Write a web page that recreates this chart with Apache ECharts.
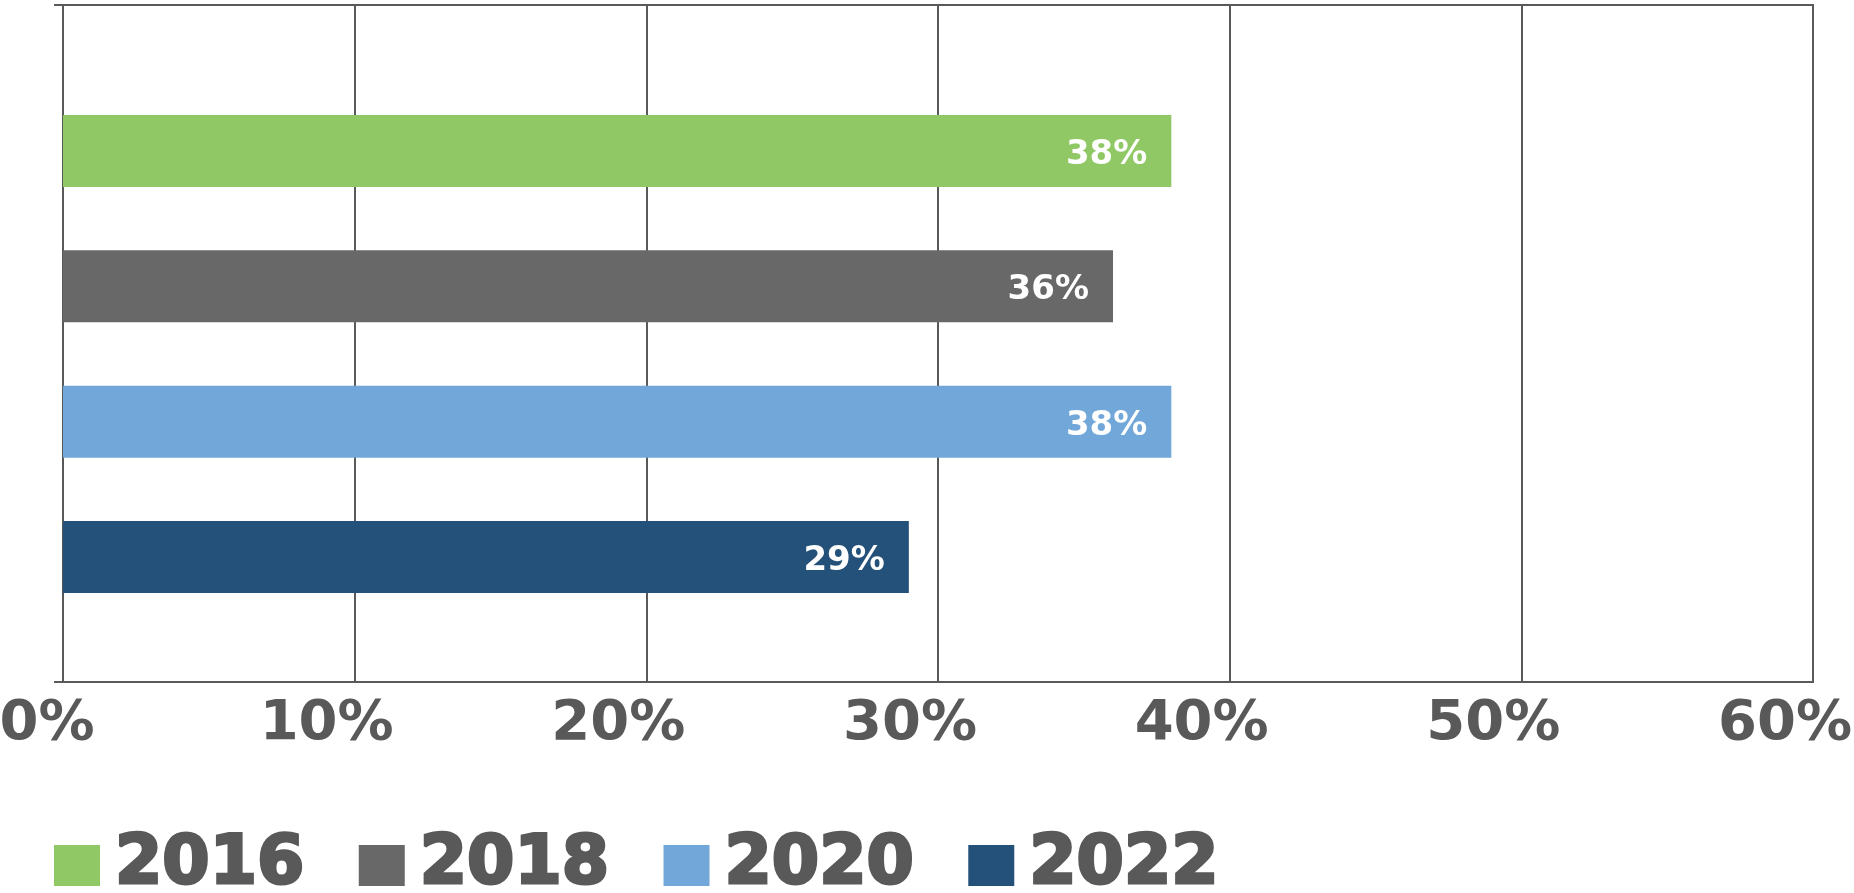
<!DOCTYPE html>
<html><head><meta charset="utf-8">
<script src="https://cdn.jsdelivr.net/npm/echarts@6/dist/echarts.min.js"></script>
<style>html,body{margin:0;padding:0;background:#fff}#c{width:1854px;height:893px}</style>
</head><body><div id="c"></div>
<script>
const years = ['2016', '2018', '2020', '2022'];
const values = [38, 36, 38, 29];
const colors = ['#90C865', '#686868', '#71A7D9', '#245179'];
const tickMin = 0, tickMax = 60, tickStep = 10;

const txt = '#595959';
const font = 'DejaVu Sans';
const chart = echarts.init(document.getElementById('c'));

const series = years.map((y, i) => ({
  name: y,
  type: 'bar',
  xAxisIndex: 1,
  yAxisIndex: 1,
  data: [values[i]],
  barWidth: 72,
  barGap: '88%',
  itemStyle: { color: colors[i] },
  label: {
    show: true, position: 'insideRight', distance: 24, offset: [0, 4],
    formatter: '{c}%', color: '#fff', fontFamily: font, fontWeight: 'bold', fontSize: 34
  },
  silent: true
}));

const labelStyle = { color: txt, fontFamily: font, fontWeight: 'bold', fontSize: 56 };

chart.setOption({
  animation: false,
  backgroundColor: '#fff',
  grid: [
    { left: 63, right: 41, top: 5, bottom: 211, show: true, borderColor: txt, borderWidth: 2,
      containLabel: false, outerBoundsMode: 'none' },
    { left: 63, right: 41, top: 54, bottom: 239, containLabel: false, outerBoundsMode: 'none' }
  ],
  xAxis: [
    { type: 'value', gridIndex: 0, min: tickMin, max: tickMax, interval: tickStep,
      axisLine: { show: true, lineStyle: { color: txt, width: 2 } },
      axisTick: { show: false },
      splitLine: { show: true, lineStyle: { color: txt, width: 2 } },
      axisLabel: Object.assign({}, labelStyle, {
        margin: 14, padding: [0, 56, 0, 0],
        formatter: v => v === 0 ? '{z|' + v + '%}' : v + '%',
        rich: { z: Object.assign({}, labelStyle, { padding: [0, 0, 0, 24] }) }
      }) },
    { type: 'value', gridIndex: 1, min: tickMin, max: tickMax, interval: tickStep, show: false }
  ],
  yAxis: [
    { type: 'category', gridIndex: 0, data: [''],
      axisLine: { show: true, lineStyle: { color: txt, width: 2 } },
      axisTick: { show: true, length: 9, lineStyle: { color: txt, width: 2 } },
      axisLabel: { show: false } },
    { type: 'category', gridIndex: 1, data: [''], show: false }
  ],
  legend: {
    data: years, left: 49, top: 825, icon: 'rect', itemWidth: 46, itemHeight: 41, itemGap: 53,
    textStyle: { color: txt, fontFamily: font, fontWeight: 'bold', fontSize: 68, padding: [0, 0, 0, 10],
      textBorderColor: txt, textBorderWidth: 3 },
    selectedMode: false
  },
  series: series
});
</script></body></html>
